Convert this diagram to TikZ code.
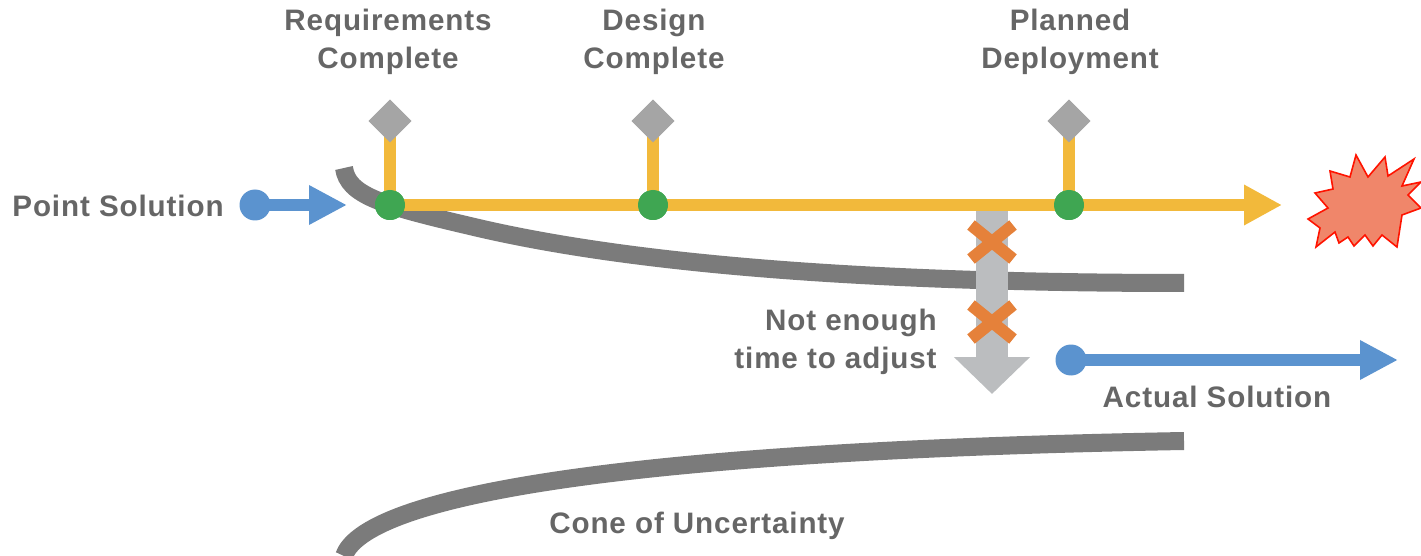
\documentclass[tikz,border=0pt]{standalone}
\usepackage{fontspec}
\setmainfont[LetterSpace=3]{Liberation Sans}
\usepackage{tikz}
\usetikzlibrary{arrows.meta,positioning,shapes.geometric,shapes.misc}
\tikzset{yt/.tip={Triangle[length=19pt,width=19pt]}}
\tikzset{bt/.tip={Triangle[length=19pt,width=18.5pt]}}
\tikzset{gt/.tip={Triangle[length=18.5pt,width=37pt]}}
\definecolor{lbl}{HTML}{666666}
\definecolor{yel}{HTML}{F2B93B}
\definecolor{blu}{HTML}{5B93CF}
\definecolor{grn}{HTML}{3FA652}
\definecolor{gem}{HTML}{A5A5A5}
\definecolor{cone}{HTML}{7B7B7B}
\definecolor{shaft}{HTML}{BBBDBF}
\definecolor{org}{HTML}{E5813A}
\definecolor{bang}{HTML}{F0866A}
\tikzset{
  lab/.style={text=lbl,font=\fontsize{14.8}{19}\selectfont\bfseries,align=center,inner sep=0pt},
  mile/.style={circle,fill=grn,minimum size=15pt,inner sep=0pt},
  gate/.style={diamond,fill=gem,minimum size=21.5pt,inner sep=0pt},
  start/.style={circle,fill=blu,minimum size=15.5pt,inner sep=0pt},
  stop/.style={cross out,draw=org,line width=6pt,minimum width=15pt,minimum height=11pt,inner sep=0pt}
}
\begin{document}
\begin{tikzpicture}[x=0.5pt,y=-0.5pt,on grid,node distance=10pt]
      \useasboundingbox (0,0) rectangle (1421,556);
      % cone
      \draw[cone,line width=9pt] (344,168) .. controls (348,195) and (380,205) .. (470,226)
        .. controls (620,262) and (850,283) .. (1184,283);
      \draw[cone,line width=9pt] (344,556) .. controls (362,505) and (560,452) .. (1184,441);

      % milestones on the plan
      \node[mile](M1) at (390,205){};
      \node[mile](M2) at (653,205){};
      \node[mile](M3) at (1069,205){};
      \node[gate,above=42pt of M1](G1){};
      \node[gate,above=42pt of M2](G2){};
      \node[gate,above=42pt of M3](G3){};
      \node[lab,above=39.5pt of G1,xshift=-1pt](L1){Requirements\\Complete};
      \node[lab,above=39.5pt of G2,xshift=0.5pt](L2){Design\\Complete};
      \node[lab,above=39.5pt of G3,xshift=0.5pt](L3){Planned\\Deployment};

      % adjustment arrow
      \coordinate(Atop) at (992,205);
      \coordinate(Aend) at (992,394);
      \draw[shaft,line width=16pt,-{gt[fill=shaft]}] (Atop) -- (Aend);
      \node[stop](X1) at (992,242){};
      \node[stop](X2) at (992,322){};
      \node[lab,align=right,anchor=east](Late) at (937,342){Not enough\\time to adjust};

      % plan
      \coordinate(Yend) at (1282,205);
      \draw[yel,line width=6pt] (G1.center) -- (M1.center);
      \draw[yel,line width=6pt] (G2.center) -- (M2.center);
      \draw[yel,line width=6pt] (G3.center) -- (M3.center);
      \draw[yel,line width=6pt,-{yt}] (M1.center) -- (Yend);
      \node[mile] at (M1){};
      \node[mile] at (M2){};
      \node[mile] at (M3){};
      \node[gate] at (G1){};
      \node[gate] at (G2){};
      \node[gate] at (G3){};

      % point solution
      \node[lab](Point) at (118,206){Point Solution};
      \node[start](P0) at (255,205){};
      \coordinate(Pend) at (347,205);
      \draw[blu,line width=6pt,-{bt}] (P0.center) -- (Pend);

      % actual solution
      \node[start](A0) at (1071,360){};
      \coordinate(A1) at (1398,360);
      \draw[blu,line width=6pt,-{bt}] (A0.center) -- (A1);
      \node[lab,below=18.5pt of A0,xshift=73pt](Actual){Actual Solution};

      \node[lab](Cone) at (697,526){Cone of Uncertainty};

      % miss
      \filldraw[fill=bang,draw=red!85!orange,line width=0.8pt] (1308,219) -- (1328,208) -- (1315,193) -- (1333,189)
        -- (1330,171) -- (1350,177) -- (1356,155) -- (1368,177) -- (1385,157) -- (1388,176)
        -- (1414,159) -- (1402,186) -- (1421,182) -- (1408,195) -- (1421,208) -- (1402,215)
        -- (1397,247) -- (1382,235) -- (1373,246) -- (1365,235) -- (1354,246) -- (1348,237)
        -- (1339,243) -- (1335,232) -- (1316,247) -- (1320,228) -- cycle;
    \end{tikzpicture}
\end{document}
